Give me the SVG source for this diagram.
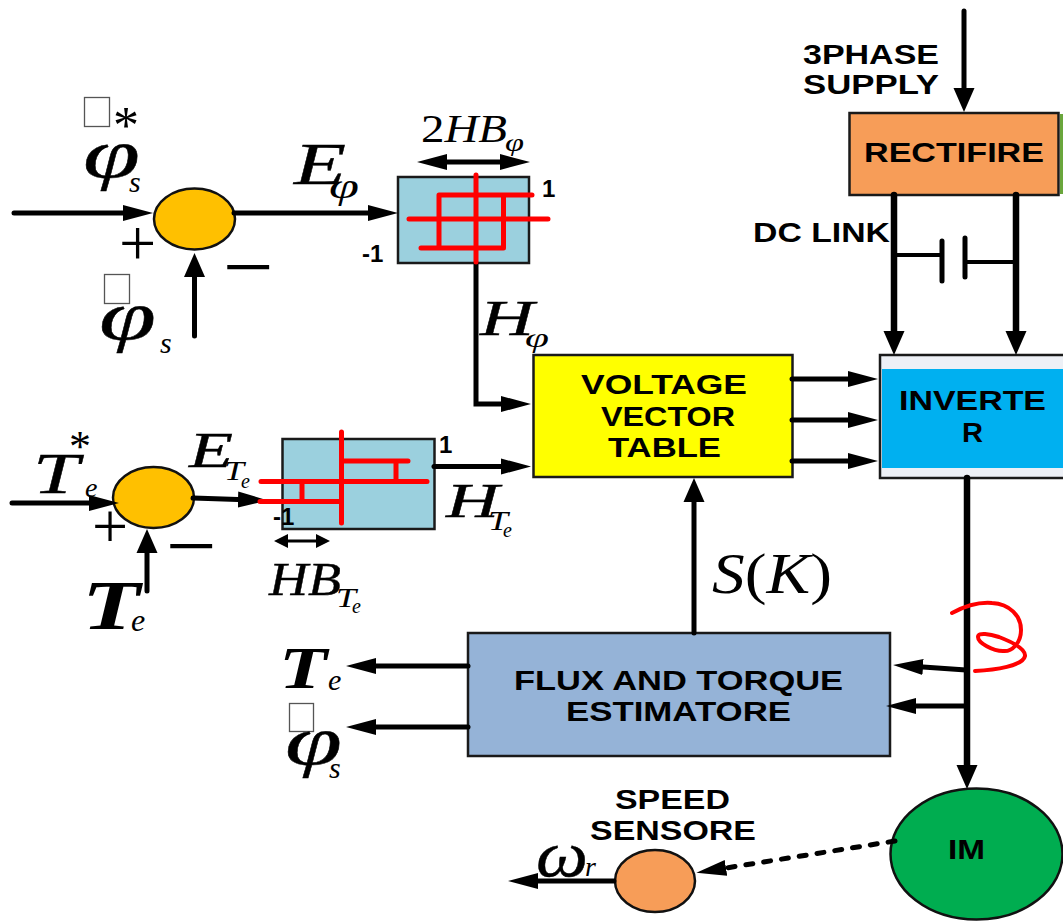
<svg xmlns="http://www.w3.org/2000/svg" width="1063" height="921" viewBox="0 0 1063 921">
<style>
.b{font-family:"Liberation Sans",Arial,sans-serif;font-weight:700;fill:#000;font-size:27px}
.n{font-size:24px}
.m{font-family:"Liberation Serif","Times New Roman",serif;font-style:italic;fill:#000}
.h{stroke:#000;stroke-width:.4}
.r{font-family:"Liberation Serif","Times New Roman",serif;fill:#000}
.box{stroke:#1a1a1a;stroke-width:2.5}
.w{fill:none;stroke:#000;stroke-width:5;stroke-linecap:round;stroke-linejoin:miter}
.w6{stroke-width:6.5}
.w3{stroke-width:3}
.rd{fill:none;stroke:#f00;stroke-width:5;stroke-linecap:round;stroke-linejoin:round}
.tf{fill:#fff;stroke:#555;stroke-width:1.3}
.a{marker-end:url(#h)}
.ab{marker-end:url(#hb)}
</style>
<defs>
<marker id="h" markerUnits="userSpaceOnUse" markerWidth="32" markerHeight="18" refX="0" refY="9" orient="auto"><path d="M0 1L30 9L0 17Z" fill="#000"/></marker>
<marker id="hb" markerUnits="userSpaceOnUse" markerWidth="26" markerHeight="23" refX="0" refY="11.5" orient="auto"><path d="M0 1L24 11.5L0 22Z" fill="#000"/></marker>
<marker id="hd" markerUnits="userSpaceOnUse" markerWidth="32" markerHeight="18" refX="0" refY="9" orient="auto-start-reverse"><path d="M0 1L30 9L0 17Z" fill="#000"/></marker>
<marker id="hs" markerUnits="userSpaceOnUse" markerWidth="16" markerHeight="16" refX="0" refY="8" orient="auto-start-reverse"><path d="M0 1L14 8L0 15Z" fill="#000"/></marker>
</defs>
<rect width="1063" height="921" fill="#fff"/>

<g id="rectifier">
<rect x="849.500" y="113" width="209" height="82" fill="#f79d58" class="box"/>
<rect x="1060" y="114" width="3" height="80" fill="#6aa63c"/>
<text class="b" x="864" y="161.500" textLength="180" lengthAdjust="spacingAndGlyphs">RECTIFIRE</text>
</g>
<g id="inverter">
<rect x="880" y="355" width="190" height="123" fill="#edf0f6" class="box"/>
<rect x="882" y="369" width="181" height="99" fill="#00b0f0"/>
<text class="b" x="899" y="409.500" textLength="147" lengthAdjust="spacingAndGlyphs">INVERTE</text>
<text class="b" x="962" y="441.500" textLength="21" lengthAdjust="spacingAndGlyphs">R</text>
</g>
<g id="voltage-vector-table">
<rect x="533.500" y="355" width="259" height="122" fill="#ff0" class="box"/>
<text class="b" x="581" y="393.500" textLength="166" lengthAdjust="spacingAndGlyphs">VOLTAGE</text>
<text class="b" x="601" y="425.500" textLength="134" lengthAdjust="spacingAndGlyphs">VECTOR</text>
<text class="b" x="608" y="456.500" textLength="113" lengthAdjust="spacingAndGlyphs">TABLE</text>
</g>
<g id="estimator">
<rect x="468" y="633" width="422" height="123" fill="#95b3d7" class="box"/>
<text class="b" x="514" y="689.500" textLength="329" lengthAdjust="spacingAndGlyphs">FLUX AND TORQUE</text>
<text class="b" x="566" y="720.500" textLength="225" lengthAdjust="spacingAndGlyphs">ESTIMATORE</text>
</g>
<g id="im">
<ellipse cx="976.500" cy="854" rx="86" ry="65.500" fill="#00ad50" stroke="#111" stroke-width="2.500"/>
<text class="b" x="948" y="859" textLength="37" lengthAdjust="spacingAndGlyphs">IM</text>
</g>
<g id="speed-sensor">
<ellipse cx="655" cy="881" rx="40" ry="31" fill="#f79d58" stroke="#111" stroke-width="2.500"/>
<text class="b" x="615" y="808.500" textLength="115" lengthAdjust="spacingAndGlyphs">SPEED</text>
<text class="b" x="590" y="839.500" textLength="166" lengthAdjust="spacingAndGlyphs">SENSORE</text>
</g>
<g id="sum-flux">
<ellipse cx="194.500" cy="219" rx="40.500" ry="30.500" fill="#ffc000" stroke="#111" stroke-width="2.500"/>
</g>
<g id="sum-torque">
<ellipse cx="153.500" cy="497.500" rx="40.500" ry="30.500" fill="#ffc000" stroke="#111" stroke-width="2.500"/>
</g>
<g id="hyst-flux">
<rect x="398" y="177" width="131" height="86" fill="#9bd0de" class="box"/>
</g>
<g id="hyst-torque">
<rect x="282.500" y="439" width="152" height="90" fill="#9bd0de" class="box"/>
</g>

<g id="connectors">
<path class="w ab" d="M964 11V88"/>
<path class="w w6 ab" d="M894 195V331"/>
<path class="w w6 ab" d="M1016 195V331"/>
<path class="w" d="M896 255H942M965 262H1016" style="stroke-width:4;stroke-linecap:butt"/>
<path class="w" d="M942 241V281M965 238V277"/>
<path class="w a" d="M14 213H123"/>
<path class="w a" d="M234 213H368"/>
<path class="w ab" d="M194.500 336V277"/>
<path class="w a" d="M476 263V404H501"/>
<path class="w a" d="M12 503H89"/>
<path class="w a" d="M193 498L238 499.500"/>
<path class="w ab" d="M147 591V553"/>
<path class="w a" d="M434 466.500H501"/>
<path class="w a" d="M792 379H848"/>
<path class="w a" d="M792 420H848"/>
<path class="w a" d="M792 461H848"/>
<path class="w w6 ab" d="M967 478V765"/>
<path class="w ab" d="M694 633V502"/>
<path class="w a" d="M966 670L923 667"/>
<path class="w a" d="M966 706H916"/>
<path class="w a" d="M468 666H376"/>
<path class="w a" d="M468 727H376"/>
<path class="w a" d="M614 881H538"/>
<path class="w a" d="M895 841L726 868" style="stroke-dasharray:7 11"/>
<path class="w" d="M447 162H500" style="marker-start:url(#hd);marker-end:url(#hd);stroke-linecap:butt"/>
<path class="w w3" d="M288 541H316" style="marker-start:url(#hs);marker-end:url(#hs);stroke-linecap:butt"/>
</g>

<g id="relay-flux">
<path class="rd" d="M476 175V262M409 219H548M532 195H439V248M421 248H503.500V195"/>
</g>
<g id="relay-torque">
<path class="rd" d="M341.500 432V523M261 481.500H427M341.500 461H408M396 461V481.500M260 501.500H341.500M302 481.500V501.500"/>
</g>
<path class="rd" style="stroke-width:4" d="M952 613C965 606 980 602 992 603C1010 604 1021 616 1021 630C1021 643 1012 652 1003 651C993 651 978 643 978 637C978 632 990 634 999 637C1012 642 1026 649 1025 656C1023 666 995 670 975 671"/>

<g id="labels">
<text class="b" x="803" y="63.500" textLength="136" lengthAdjust="spacingAndGlyphs">3PHASE</text>
<text class="b" x="803" y="93.500" textLength="136" lengthAdjust="spacingAndGlyphs">SUPPLY</text>
<text class="b" x="753" y="242" textLength="137" lengthAdjust="spacingAndGlyphs">DC LINK</text>
<text class="b n" x="542" y="197">1</text>
<text class="b n" x="362" y="262">-1</text>
<text class="b n" x="439" y="453">1</text>
<text class="b n" x="273" y="525">-1</text>

<rect class="tf" x="84.500" y="97.500" width="25" height="29"/>
<text class="r" x="113" y="143" font-size="52">*</text>
<text class="m h" x="83" y="177" font-size="67" textLength="57" lengthAdjust="spacingAndGlyphs">φ</text>
<text class="m" x="129" y="192" font-size="30">s</text>
<text class="r" x="119" y="265" font-size="66">+</text>
<text class="r" x="223" y="297" font-size="90">−</text>

<rect class="tf" x="104.500" y="274.500" width="25" height="29"/>
<text class="m h" x="99" y="339" font-size="67" textLength="57" lengthAdjust="spacingAndGlyphs">φ</text>
<text class="m" x="160" y="353" font-size="30">s</text>

<text class="m h" x="294" y="184" font-size="59" textLength="52" lengthAdjust="spacingAndGlyphs">E</text>
<text class="m" x="329" y="198" font-size="36" textLength="30" lengthAdjust="spacingAndGlyphs">φ</text>
<text class="r" x="421" y="142" font-size="40" textLength="86" lengthAdjust="spacingAndGlyphs">2<tspan class="m">HB</tspan></text>
<text class="m" x="505" y="151" font-size="26" textLength="19" lengthAdjust="spacingAndGlyphs">φ</text>
<text class="m h" x="480" y="335" font-size="50" textLength="54" lengthAdjust="spacingAndGlyphs">H</text>
<text class="m" x="525" y="347" font-size="28" textLength="24" lengthAdjust="spacingAndGlyphs">φ</text>

<text class="m h" x="33" y="493" font-size="58" textLength="46" lengthAdjust="spacingAndGlyphs">T</text>
<text class="r" x="69" y="461" font-size="44">*</text>
<text class="m" x="85" y="497" font-size="28">e</text>
<text class="r" x="92" y="548" font-size="64">+</text>
<text class="r" x="166" y="576" font-size="90">−</text>
<text class="m" x="82" y="629" font-size="70" font-weight="700" textLength="58" lengthAdjust="spacingAndGlyphs">T</text>
<text class="m" x="131" y="631" font-size="32">e</text>

<text class="m h" x="189" y="467" font-size="50" textLength="44" lengthAdjust="spacingAndGlyphs">E</text>
<text class="m" x="224" y="480" font-size="28" textLength="20" lengthAdjust="spacingAndGlyphs">T</text>
<text class="m" x="241" y="488" font-size="20">e</text>
<text class="m h" x="446" y="517" font-size="48" textLength="53" lengthAdjust="spacingAndGlyphs">H</text>
<text class="m" x="488" y="530" font-size="28" textLength="20" lengthAdjust="spacingAndGlyphs">T</text>
<text class="m" x="503" y="537" font-size="20">e</text>
<text class="m h" x="269" y="595" font-size="46" textLength="72" lengthAdjust="spacingAndGlyphs">HB</text>
<text class="m" x="336" y="607" font-size="28" textLength="20" lengthAdjust="spacingAndGlyphs">T</text>
<text class="m" x="352" y="613" font-size="20">e</text>

<text x="712" y="593" font-size="58" class="r" textLength="120" lengthAdjust="spacingAndGlyphs"><tspan class="m">S</tspan>(<tspan class="m">K</tspan>)</text>

<text class="m" x="279" y="688" font-size="60" font-weight="700" textLength="48" lengthAdjust="spacingAndGlyphs">T</text>
<text class="m" x="328" y="690" font-size="30">e</text>
<rect class="tf" x="289.500" y="703.500" width="24" height="28"/>
<text class="m h" x="285" y="764" font-size="67" textLength="57" lengthAdjust="spacingAndGlyphs">φ</text>
<text class="m" x="329" y="778" font-size="30">s</text>
<text class="m h" x="536" y="876" font-size="66" textLength="52" lengthAdjust="spacingAndGlyphs">ω</text>
<text class="m" x="585" y="876" font-size="28">r</text>
</g>
</svg>
